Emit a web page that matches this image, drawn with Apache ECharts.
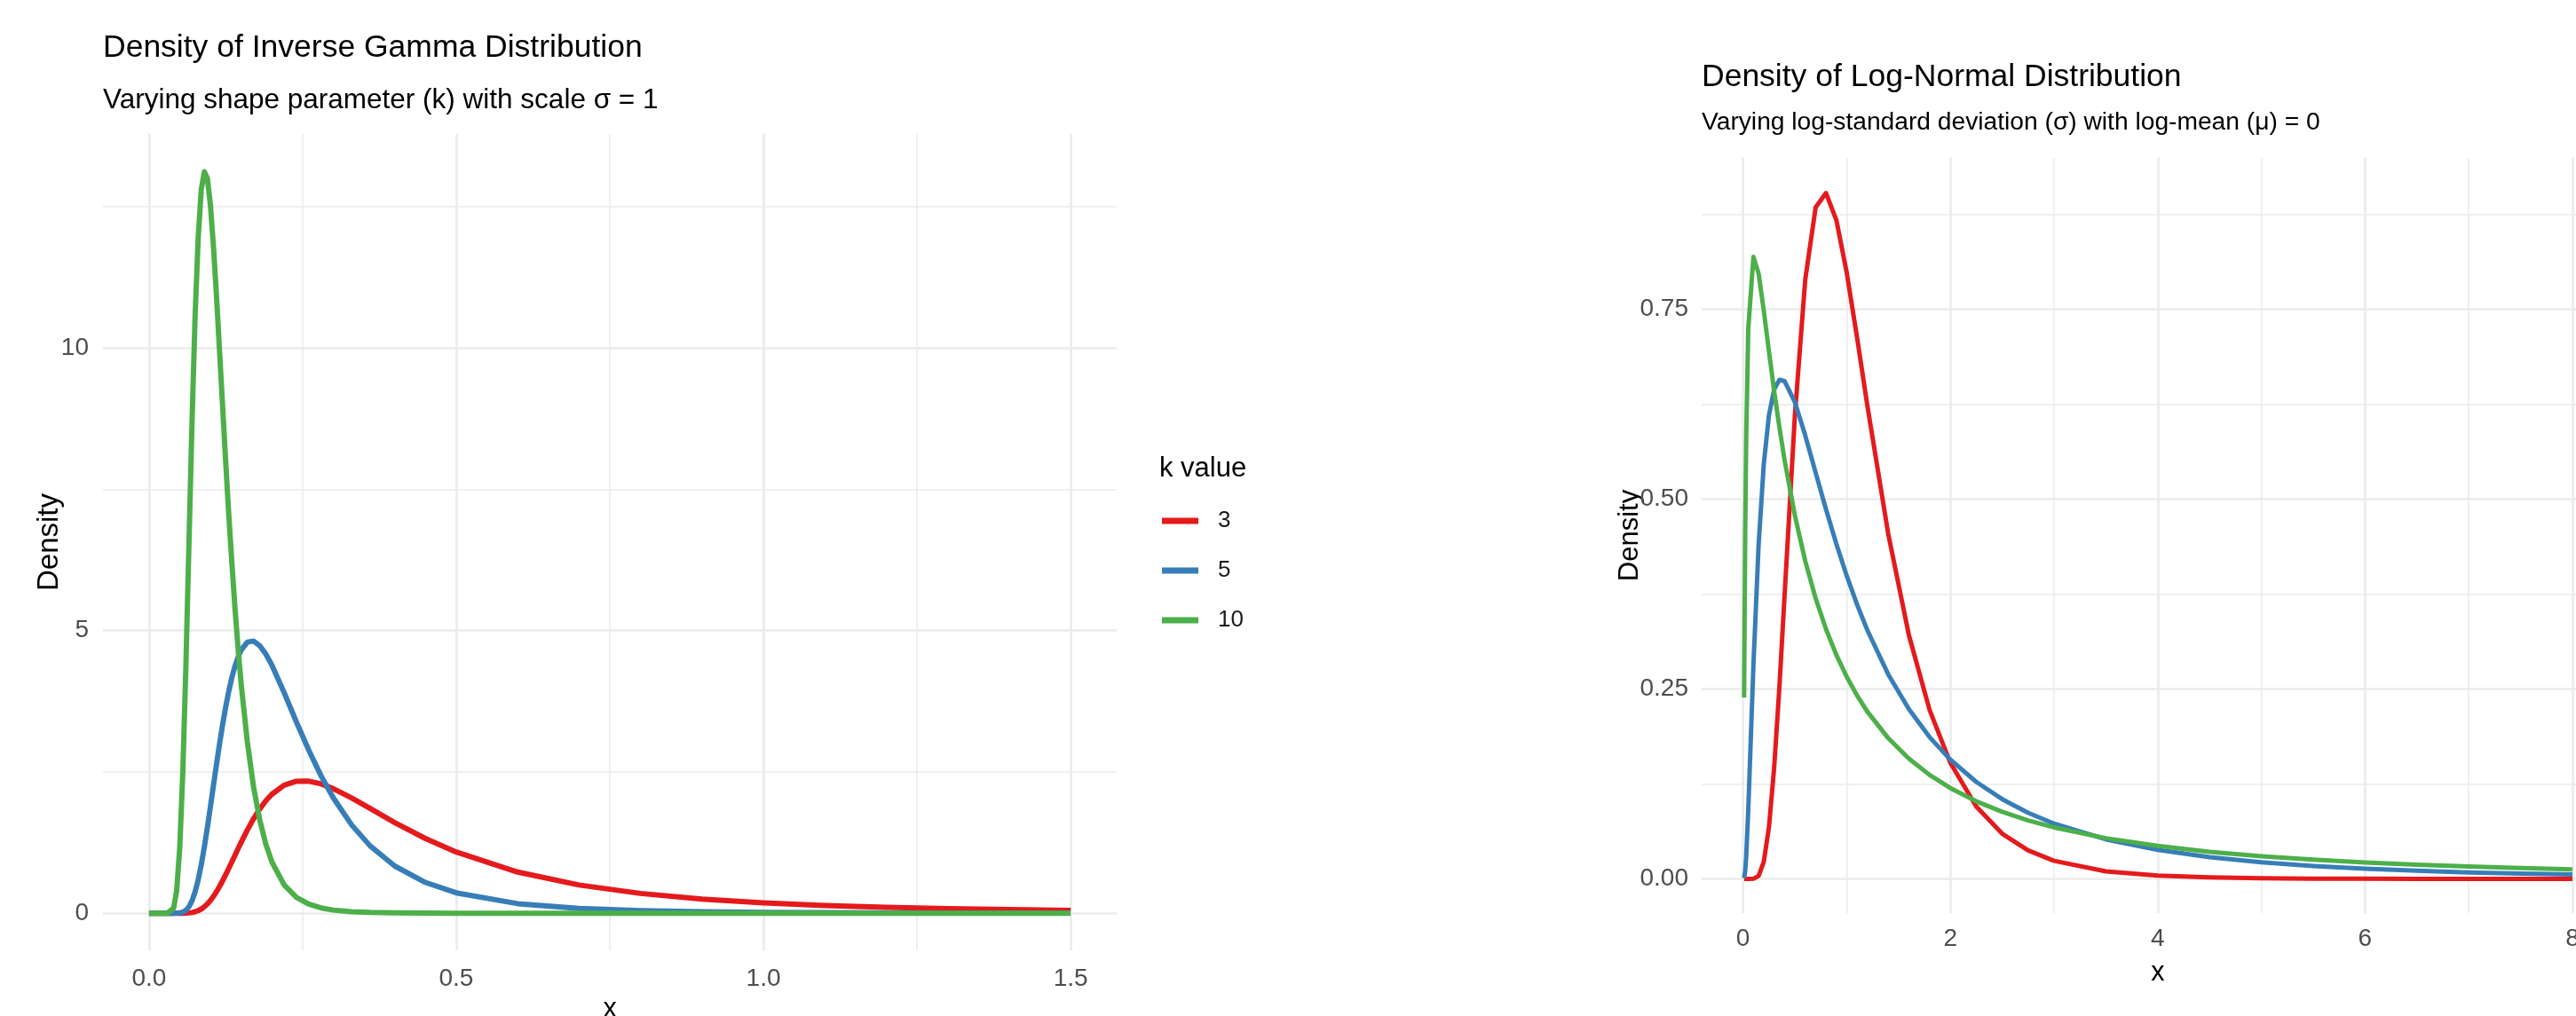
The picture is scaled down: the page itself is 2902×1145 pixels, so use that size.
<!DOCTYPE html>
<html><head><meta charset="utf-8">
<script src="https://cdn.jsdelivr.net/npm/echarts@6/dist/echarts.min.js"></script>
<style>html,body{margin:0;padding:0;background:#fff}#c{width:2902px;height:1145px}</style>
</head><body><div id="c"></div>
<script>
// ---- Inverse Gamma densities (scale 1) ----
const igX   = [0, 0.02, 0.03, 0.04, 0.045, 0.05, 0.055, 0.06, 0.065, 0.07, 0.075, 0.08, 0.085, 0.09, 0.095, 0.1, 0.105, 0.11, 0.115, 0.12, 0.125, 0.13, 0.135, 0.14, 0.145, 0.15, 0.16, 0.17, 0.18, 0.19, 0.2, 0.22, 0.24, 0.26, 0.28, 0.3, 0.33, 0.36, 0.4, 0.45, 0.5, 0.6, 0.7, 0.8, 0.9, 1.0, 1.1, 1.2, 1.3, 1.4, 1.5];
const igK3  = [0, 0, 0, 0, 0.00003, 0.0002, 0.0007, 0.0022, 0.0058, 0.013, 0.026, 0.046, 0.074, 0.114, 0.165, 0.227, 0.301, 0.385, 0.478, 0.58, 0.687, 0.799, 0.914, 1.028, 1.144, 1.256, 1.473, 1.67, 1.841, 1.988, 2.106, 2.266, 2.335, 2.337, 2.289, 2.203, 2.038, 1.852, 1.603, 1.322, 1.083, 0.728, 0.499, 0.35, 0.251, 0.184, 0.138, 0.105, 0.081, 0.064, 0.051];
const igK5  = [0, 0, 0, 0.0001, 0.0011, 0.0055, 0.019, 0.052, 0.115, 0.221, 0.379, 0.592, 0.859, 1.171, 1.52, 1.892, 2.273, 2.651, 3.013, 3.356, 3.665, 3.939, 4.179, 4.375, 4.531, 4.655, 4.797, 4.816, 4.735, 4.586, 4.388, 3.9, 3.38, 2.883, 2.43, 2.04, 1.559, 1.19, 0.835, 0.544, 0.361, 0.169, 0.085, 0.046, 0.026, 0.015, 0.0095, 0.0061, 0.004, 0.0027, 0.0019];
const igK10 = [0, 0, 0.0005, 0.091, 0.402, 1.163, 2.509, 4.385, 6.554, 8.71, 10.57, 11.95, 12.8, 13.12, 13.0, 12.52, 11.77, 10.88, 9.9, 8.92, 7.94, 7.01, 6.166, 5.38, 4.674, 4.05, 3.03, 2.24, 1.66, 1.225, 0.906, 0.5, 0.281, 0.16, 0.094, 0.056, 0.026, 0.013, 0.0054, 0.0019, 0.0006, 0.0001, 0, 0, 0, 0, 0, 0, 0, 0, 0];

// ---- Log-normal densities (log-mean 0) ----
const lnX   = [0.01, 0.02, 0.03, 0.05, 0.1, 0.15, 0.2, 0.25, 0.3, 0.35, 0.4, 0.5, 0.6, 0.7, 0.8, 0.9, 1.0, 1.1, 1.2, 1.4, 1.6, 1.8, 2.0, 2.25, 2.5, 2.75, 3, 3.5, 4, 4.5, 5, 5.5, 6, 6.5, 7, 7.5, 8];
const lnS05 = [0, 0, 0, 0, 0.0002, 0.004, 0.0225, 0.0684, 0.1465, 0.2515, 0.3721, 0.6104, 0.7892, 0.8838, 0.9028, 0.8671, 0.7979, 0.7123, 0.6221, 0.4544, 0.3206, 0.2221, 0.1526, 0.0952, 0.0595, 0.0375, 0.0238, 0.0099, 0.0043, 0.0019, 0.0009, 0.0004, 0.0002, 0.0001, 0.00005, 0.00002, 0.00001];
const lnS1  = [0.001, 0.0095, 0.0284, 0.0899, 0.2816, 0.4398, 0.5462, 0.6105, 0.6442, 0.6569, 0.6554, 0.6275, 0.5836, 0.5348, 0.4864, 0.4408, 0.3989, 0.361, 0.327, 0.2693, 0.2233, 0.1865, 0.1569, 0.1276, 0.1049, 0.087, 0.0727, 0.052, 0.0382, 0.0286, 0.0219, 0.017, 0.0134, 0.0107, 0.0086, 0.007, 0.0057];
const lnS15 = [0.2388, 0.4433, 0.5768, 0.7239, 0.8187, 0.7968, 0.7478, 0.6941, 0.6424, 0.5948, 0.5517, 0.4781, 0.4183, 0.3694, 0.3288, 0.2948, 0.266, 0.2413, 0.22, 0.1853, 0.1583, 0.1368, 0.1195, 0.1021, 0.0883, 0.077, 0.0678, 0.0536, 0.0434, 0.0357, 0.0299, 0.0254, 0.0217, 0.0188, 0.0164, 0.0144, 0.0127];

// ---- tick values ----
const igXTicks = [0, 0.5, 1, 1.5];
const igXMinor = [0.25, 0.75, 1.25];
const igYTicks = [0, 5, 10];
const igYMinor = [2.5, 7.5, 12.5];
const lnXTicks = [0, 2, 4, 6, 8];
const lnXMinor = [1, 3, 5, 7];
const lnYTicks = [0, 0.25, 0.5, 0.75];
const lnYMinor = [0.125, 0.375, 0.625, 0.875];

const igNames = ['3', '5', '10'];
const lnNames = ['0.5', '1', '1.5'];
const COLORS = ['#E41A1C', '#377EB8', '#4DAF4A'];

const FONT = "'Liberation Sans', Arial, Helvetica, sans-serif";
const NARROW = "'Liberation Sans Narrow', 'Arial Narrow', 'Liberation Sans', Arial, sans-serif";
const GRID_C = '#EBEBEB';
const TICK_C = '#4D4D4D';

function pairs(xs, ys) { return xs.map((x, i) => [x, ys[i]]); }

function majorAxis(grid, min, max, ticks, fmt, margin, extra) {
  return Object.assign({
    type: 'value', gridIndex: grid, min: min, max: max, scale: true,
    axisLine: { show: false },
    axisTick: { show: false, customValues: ticks },
    axisLabel: { customValues: ticks, formatter: fmt, margin: margin, color: TICK_C,
      fontFamily: NARROW, fontSize: 28, lineHeight: 28 },
    splitLine: { show: true, lineStyle: { color: GRID_C, width: 2.6 } },
    minorTick: { show: false }, minorSplitLine: { show: false }
  }, extra || {});
}
function minorAxis(grid, min, max, ticks) {
  return {
    type: 'value', gridIndex: grid, min: min, max: max, scale: true,
    axisLine: { show: false },
    axisTick: { show: false, customValues: ticks },
    axisLabel: { show: false, customValues: ticks },
    splitLine: { show: true, lineStyle: { color: GRID_C, width: 1.5 } }
  };
}

const chart = echarts.init(document.getElementById('c'), null, { renderer: 'canvas', width: 2902, height: 1145 });

const titleStyle = (size) => ({ fontFamily: FONT, fontSize: size, lineHeight: size, fontWeight: 'normal', color: '#000' });

const option = {
  animation: false,
  backgroundColor: '#ffffff',
  title: [
    { text: 'Density of Inverse Gamma Distribution', left: 116, top: 36, padding: 0, textStyle: titleStyle(35.5) },
    { text: 'Varying shape parameter (k) with scale σ = 1', left: 116, top: 98, padding: 0, textStyle: titleStyle(31.5) },
    { text: 'Density of Log-Normal Distribution', left: 1917, top: 69, padding: 0, textStyle: titleStyle(35.5) },
    { text: 'Varying log-standard deviation (σ) with log-mean (μ) = 0', left: 1917, top: 124, padding: 0, textStyle: titleStyle(28.2) },
    { text: 'k value', left: 1306, top: 513, padding: 0, textStyle: titleStyle(31) }
  ],
  legend: {
    data: igNames, orient: 'vertical', left: 1309, top: 574, padding: 0,
    itemWidth: 41, itemHeight: 7, itemGap: 30, icon: 'rect', selectedMode: false,
    textStyle: { fontFamily: NARROW, fontSize: 26, lineHeight: 25, color: '#1A1A1A', padding: [0, 0, 0, 17] }
  },
  grid: [
    { left: 116, top: 151, width: 1142, height: 920, outerBoundsMode: 'none', containLabel: false },
    { left: 1917, top: 177.8, width: 1027.6, height: 851.4, outerBoundsMode: 'none', containLabel: false }
  ],
  xAxis: [
    majorAxis(0, -0.075, 1.575, igXTicks, v => Number(v).toFixed(1), 18,
      { name: 'x', nameLocation: 'middle', nameGap: 51, nameMoveOverlap: false,
        nameTextStyle: { fontFamily: FONT, fontSize: 30.5, lineHeight: 30.5, color: '#000' } }),
    minorAxis(0, -0.075, 1.575, igXMinor),
    majorAxis(1, -0.3995, 8.3995, lnXTicks, v => String(Math.round(v)), 15,
      { name: 'x', nameLocation: 'middle', nameGap: 52, nameMoveOverlap: false,
        nameTextStyle: { fontFamily: FONT, fontSize: 30.5, lineHeight: 30.5, color: '#000' } }),
    minorAxis(1, -0.3995, 8.3995, lnXMinor)
  ],
  yAxis: [
    majorAxis(0, -0.6565, 13.7865, igYTicks, v => String(Math.round(v)), 16,
      { name: 'Density', nameLocation: 'middle', nameGap: 44, nameMoveOverlap: false,
        nameTextStyle: { fontFamily: FONT, fontSize: 33, lineHeight: 33, color: '#000' } }),
    minorAxis(0, -0.6565, 13.7865, igYMinor),
    majorAxis(1, -0.0452, 0.9492, lnYTicks, v => Number(v).toFixed(2), 15,
      { name: 'Density', nameLocation: 'middle', nameGap: 65, nameMoveOverlap: false,
        nameTextStyle: { fontFamily: FONT, fontSize: 31, lineHeight: 31, color: '#000' } }),
    minorAxis(1, -0.0452, 0.9492, lnYMinor)
  ],
  series: [
    { name: igNames[0], type: 'line', xAxisIndex: 0, yAxisIndex: 0, data: pairs(igX, igK3) },
    { name: igNames[1], type: 'line', xAxisIndex: 0, yAxisIndex: 0, data: pairs(igX, igK5) },
    { name: igNames[2], type: 'line', xAxisIndex: 0, yAxisIndex: 0, data: pairs(igX, igK10) },
    { name: lnNames[0], type: 'line', xAxisIndex: 2, yAxisIndex: 2, data: pairs(lnX, lnS05) },
    { name: lnNames[1], type: 'line', xAxisIndex: 2, yAxisIndex: 2, data: pairs(lnX, lnS1) },
    { name: lnNames[2], type: 'line', xAxisIndex: 2, yAxisIndex: 2, data: pairs(lnX, lnS15) }
  ].map((s, i) => Object.assign(s, {
    showSymbol: false, symbol: 'none', smooth: false, clip: true,
    color: COLORS[i % 3],
    lineStyle: { color: COLORS[i % 3], width: i < 3 ? 6 : 5, cap: 'butt', join: 'round' },
    itemStyle: { color: COLORS[i % 3] },
    emphasis: { disabled: true }, z: 2 + (i % 3)
  }))
};
chart.setOption(option);
</script>
</body></html>
